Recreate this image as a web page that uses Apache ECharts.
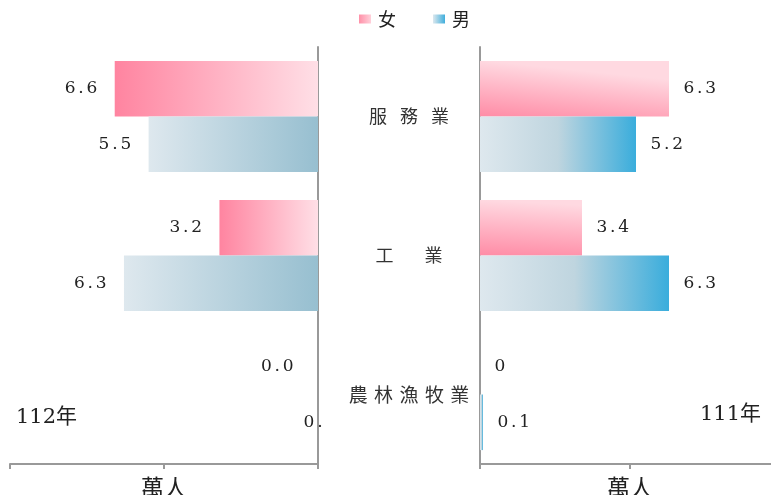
<!DOCTYPE html>
<html><head><meta charset="utf-8">
<script src="https://cdn.jsdelivr.net/npm/echarts@6/dist/echarts.min.js"></script>
<style>html,body{margin:0;padding:0;background:#fff}#c{width:771px;height:495px}</style>
</head><body><div id="c"></div>
<script>
// ---- data ----
const categories = ['服務業', '工業', '農林漁牧業'];
const female112 = [6.6, 3.2, 0.0];
const male112 = [5.5, 6.3, 0.0];
const female111 = [6.3, 3.4, 0];
const male111 = [5.2, 6.3, 0.1];
const labels112F = ['6.6', '3.2', '0.0'];
const labels112M = ['5.5', '6.3', '0.'];
const labels111F = ['6.3', '3.4', '0'];
const labels111M = ['5.2', '6.3', '0.1'];
const yearLeft = '112年';
const yearRight = '111年';
const unitName = '萬人';

// ---- styles ----
const G = echarts.graphic.LinearGradient;
const gradLF = new G(0, 0, 1, 0, [{offset: 0, color: '#FF84A0'}, {offset: 1, color: '#FFDFE6'}]);
const gradLM = new G(0, 0, 1, 0, [{offset: 0, color: '#DEE8EE'}, {offset: 1, color: '#97BFD0'}]);
const gradRF = new G(0, 1, 0.03, 0, [{offset: 0, color: '#FF8CA6'}, {offset: 1, color: '#FFD9E1'}]);
const gradRM = new G(0, 0, 1, 0, [{offset: 0, color: '#DEE8EE'}, {offset: 0.5, color: '#BFD5DF'}, {offset: 1, color: '#3AADDC'}]);
const legF = new G(0, 0, 1, 0, [{offset: 0, color: '#FF90A8'}, {offset: 1, color: '#FFD0DA'}]);
const legM = new G(0, 0, 1, 0, [{offset: 0, color: '#DCE8EE'}, {offset: 1, color: '#40AEDC'}]);

const axisColor = '#999';

// spaced text helper (each character as its own rich token)
function spaced(text, style) {
  return text.split('').map(function (ch) { return '{' + style + '|' + ch + '}'; }).join('');
}
const numRich = {n: {fontFamily: 'DejaVu Serif', fontSize: 17, color: '#222', padding: [0, 1.4, 0, 1.4]}};

function barLabel(pos, dist, arr) {
  return {show: true, position: pos, distance: dist,
    formatter: function (p) { return spaced(arr[p.dataIndex], 'n'); }, rich: numRich};
}

function xAxisCfg(gi, inverse) {
  return {
    gridIndex: gi, type: 'value', min: 0, max: 10, interval: 5, inverse: inverse,
    axisLabel: {show: false}, splitLine: {show: false},
    axisLine: {show: true, lineStyle: {color: axisColor, width: 2}},
    axisTick: {show: true, length: 5, lineStyle: {color: axisColor, width: 2}},
    name: unitName, nameLocation: 'middle', nameGap: 12,
    nameTextStyle: {fontFamily: 'Noto Sans CJK TC', fontSize: 23, color: '#222', verticalAlign: 'top'}
  };
}

const chart = echarts.init(document.getElementById('c'));
chart.setOption({
  animation: false,
  backgroundColor: '#fff',
  legend: {
    left: 354, top: 5, itemWidth: 12, itemHeight: 9, itemGap: 37,
    icon: 'rect',
    textStyle: {fontFamily: 'Noto Sans CJK TC', fontSize: 18, color: '#222', padding: [0, 0, 0, 2]},
    data: [{name: '女', itemStyle: {color: legF}}, {name: '男', itemStyle: {color: legM}}]
  },
  title: [
    {text: yearLeft, left: 11, top: 402, textStyle: {fontFamily: 'DejaVu Serif, Noto Sans CJK TC', fontSize: 21, fontWeight: 'normal', color: '#222'}},
    {text: yearRight, left: 695, top: 399, textStyle: {fontFamily: 'DejaVu Serif, Noto Sans CJK TC', fontSize: 21, fontWeight: 'normal', color: '#222'}}
  ],
  grid: [
    {left: 10, width: 308, top: 47, height: 417, outerBoundsMode: 'none'},
    {left: 480, width: 300, top: 47, height: 417, outerBoundsMode: 'none'}
  ],
  xAxis: [xAxisCfg(0, true), xAxisCfg(1, false)],
  yAxis: [
    {gridIndex: 0, type: 'category', data: categories, inverse: true, position: 'right',
     axisLabel: {show: false}, axisTick: {show: false},
     axisLine: {show: true, lineStyle: {color: axisColor, width: 2}}},
    {gridIndex: 1, type: 'category', data: categories, inverse: true, position: 'left',
     axisTick: {show: false},
     axisLine: {show: true, lineStyle: {color: axisColor, width: 2}},
     axisLabel: {
       show: true, margin: 71, align: 'center', color: '#333',
       fontFamily: 'Noto Sans CJK TC', fontSize: 17,
       formatter: function (v, i) { return spaced(v, 'c' + i); },
       rich: {
         c0: {fontSize: 18, fontFamily: 'Noto Sans CJK TC', color: '#333', padding: [0, 6.5, 0, 6.5]},
         c1: {fontSize: 18, fontFamily: 'Noto Sans CJK TC', color: '#333', padding: [0, 15.5, 0, 15.5]},
         c2: {fontSize: 19, fontFamily: 'Noto Sans CJK TC', color: '#333', padding: [0, 3.2, 0, 3.2]}
       }
     }}
  ],
  series: [
    {name: '女', type: 'bar', xAxisIndex: 0, yAxisIndex: 0, barGap: 0, barCategoryGap: '20%',
     itemStyle: {color: gradLF},
     data: female112.map(function (v, i) { return i === 2 ? {value: v, label: {distance: 23}} : v; }),
     label: barLabel('left', 16, labels112F)},
    {name: '男', type: 'bar', xAxisIndex: 0, yAxisIndex: 0, barGap: 0, barCategoryGap: '20%',
     itemStyle: {color: gradLM},
     data: male112.map(function (v, i) { return i === 2 ? {value: v, label: {offset: [22, 0]}} : v; }),
     label: barLabel('left', 16, labels112M)},
    {name: '女', type: 'bar', xAxisIndex: 1, yAxisIndex: 1, barGap: 0, barCategoryGap: '20%',
     itemStyle: {color: gradRF},
     data: female111,
     label: barLabel('right', 13, labels111F)},
    {name: '男', type: 'bar', xAxisIndex: 1, yAxisIndex: 1, barGap: 0, barCategoryGap: '20%',
     itemStyle: {color: gradRM},
     data: male111,
     label: barLabel('right', 13, labels111M)}
  ]
});
</script></body></html>
